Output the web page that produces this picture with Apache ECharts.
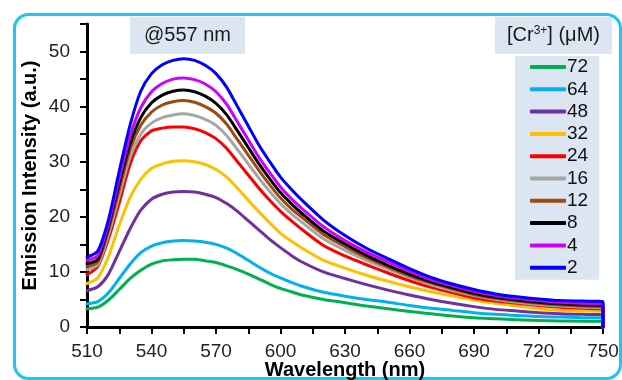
<!DOCTYPE html>
<html>
<head>
<meta charset="utf-8">
<script src="https://cdn.jsdelivr.net/npm/echarts@6.0.0/dist/echarts.min.js"></script>
<style>
  html, body { margin: 0; padding: 0; background: #fff; }
  #chart { width: 622px; height: 380px; }
</style>
</head>
<body>
<div id="chart"></div>
<script>
const wavelengths = [510, 515, 520, 525, 530, 535, 540, 545, 550, 555, 560, 565, 570, 575, 580, 585, 590, 595, 600, 605, 610, 620, 630, 640, 650, 660, 670, 680, 690, 700, 710, 720, 730, 740, 750];

const concLabels = ["72", "64", "48", "32", "24", "16", "12", "8", "4", "2"];

const cr72 = [3.3, 3.6, 4.9, 6.8, 8.8, 10.3, 11.4, 12.0, 12.2, 12.3, 12.3, 12.0, 11.7, 11.1, 10.4, 9.6, 8.7, 7.8, 7.0, 6.4, 5.8, 5.0, 4.4, 3.8, 3.3, 2.8, 2.4, 2.0, 1.7, 1.5, 1.3, 1.2, 1.1, 1.05, 1.0];
const cr64 = [4.2, 4.6, 6.2, 8.8, 11.4, 13.5, 14.7, 15.3, 15.6, 15.7, 15.6, 15.4, 15.0, 14.3, 13.3, 12.1, 10.9, 9.8, 8.9, 8.1, 7.4, 6.3, 5.6, 5.0, 4.5, 3.9, 3.4, 3.0, 2.6, 2.3, 2.1, 1.9, 1.8, 1.7, 1.6];
const cr48 = [6.6, 7.3, 9.6, 13.7, 17.8, 21.2, 23.2, 24.1, 24.5, 24.6, 24.5, 24.1, 23.5, 22.4, 21.0, 19.3, 17.6, 15.9, 14.4, 13.0, 11.8, 10.0, 8.8, 7.7, 6.7, 5.8, 5.0, 4.3, 3.7, 3.2, 2.9, 2.6, 2.4, 2.3, 2.2];
const cr32 = [7.9, 8.9, 12.8, 18.5, 23.5, 26.8, 28.8, 29.6, 30.1, 30.2, 30.0, 29.5, 28.6, 27.2, 25.2, 23.0, 20.9, 18.9, 17.0, 15.6, 14.3, 12.1, 10.7, 9.4, 8.3, 7.3, 6.4, 5.6, 4.9, 4.3, 3.8, 3.3, 3.0, 2.9, 2.8];
const cr24 = [9.5, 11.0, 16.0, 22.5, 29.5, 33.8, 35.6, 36.1, 36.3, 36.3, 36.0, 35.3, 34.2, 32.4, 30.0, 27.6, 25.2, 23.0, 21.0, 19.3, 17.7, 14.8, 12.9, 11.3, 9.8, 8.4, 7.2, 6.2, 5.3, 4.7, 4.3, 3.9, 3.6, 3.4, 3.2];
const cr16 = [10.4, 11.3, 16.8, 23.8, 30.8, 35.0, 37.0, 38.0, 38.5, 38.7, 38.4, 37.7, 36.6, 34.7, 32.2, 29.6, 27.0, 24.6, 22.4, 20.6, 19.0, 16.0, 13.9, 12.1, 10.5, 9.0, 7.7, 6.6, 5.7, 5.0, 4.5, 4.1, 3.8, 3.6, 3.4];
const cr12 = [11.0, 11.8, 17.6, 25.0, 32.2, 36.6, 39.0, 40.3, 40.9, 41.1, 40.8, 40.0, 38.8, 36.8, 34.0, 31.2, 28.4, 25.8, 23.4, 21.5, 19.9, 16.8, 14.6, 12.6, 10.9, 9.3, 8.0, 6.9, 5.9, 5.2, 4.7, 4.3, 4.0, 3.8, 3.6];
const cr8 = [11.5, 12.3, 18.2, 26.0, 33.2, 38.0, 40.7, 42.1, 42.8, 43.0, 42.7, 41.9, 40.6, 38.5, 35.6, 32.6, 29.6, 26.9, 24.4, 22.4, 20.6, 17.4, 15.1, 13.0, 11.2, 9.6, 8.2, 7.1, 6.1, 5.4, 4.9, 4.5, 4.2, 4.0, 3.9];
const cr4 = [12.1, 13.0, 18.8, 27.0, 34.6, 39.8, 42.7, 44.2, 45.0, 45.2, 44.9, 44.1, 42.7, 40.4, 37.2, 34.0, 30.8, 28.0, 25.4, 23.3, 21.5, 18.2, 15.7, 13.6, 11.8, 10.1, 8.6, 7.5, 6.5, 5.7, 5.2, 4.8, 4.5, 4.3, 4.2];
const cr2 = [12.7, 13.8, 19.5, 28.3, 36.6, 42.8, 46.0, 47.6, 48.4, 48.7, 48.4, 47.5, 46.0, 43.5, 40.0, 36.5, 33.0, 30.0, 27.2, 25.0, 23.0, 19.4, 16.6, 14.3, 12.4, 10.6, 9.0, 7.8, 6.8, 6.0, 5.5, 5.1, 4.8, 4.7, 4.6];

const seriesValues = [cr72, cr64, cr48, cr32, cr24, cr16, cr12, cr8, cr4, cr2];
const lineColors = ["#00B050", "#00B0F0", "#7030A0", "#FFC000", "#FF0000", "#A6A6A6", "#9C4A12", "#000000", "#CC00FF", "#0000FF"];

const chart = echarts.init(document.getElementById("chart"), null, { renderer: "canvas" });

const font = "Arial, 'Liberation Sans', sans-serif";

chart.setOption({
  animation: false,
  backgroundColor: "#fff",
  textStyle: { fontFamily: font },
  graphic: [
    {
      type: "rect",
      shape: { x: 14.5, y: 14.5, width: 606, height: 364, r: 14 },
      style: { fill: "none", stroke: "#1EC6F2", lineWidth: 3 },
      z: -1,
    },
  ],
  title: [
    {
      text: "@557 nm",
      left: 130,
      top: 17,
      padding: [8, 14, 8, 14],
      backgroundColor: "#DCE6F2",
      textStyle: { fontSize: 20, fontWeight: "normal", color: "#1a1a1a", lineHeight: 21 },
    },
    {
      text: "[Cr{sup|3+}] (μM)",
      left: 495,
      top: 17,
      padding: [8, 12, 8, 12],
      backgroundColor: "#DCE6F2",
      textStyle: {
        fontSize: 20,
        fontWeight: "normal",
        color: "#1a1a1a",
        lineHeight: 21,
        rich: {
          sup: { fontSize: 12, padding: [0, 0, 9, 0], color: "#1a1a1a" },
        },
      },
    },
  ],
  legend: {
    data: concLabels,
    orient: "vertical",
    left: 515,
    top: 56,
    padding: [0, 11, 1, 15],
    backgroundColor: "#DCE6F2",
    icon: "roundRect",
    itemWidth: 36,
    itemHeight: 4,
    itemGap: 0.3,
    textStyle: { fontSize: 19, color: "#111", lineHeight: 22, padding: [0, 0, 0, -4] },
  },
  grid: {
    left: 87,
    right: 19,
    top: 24,
    bottom: 53,
    containLabel: false,
    outerBoundsMode: "none",
  },
  xAxis: {
    type: "value",
    min: 510,
    max: 750,
    interval: 15,
    name: "Wavelength (nm)",
    nameLocation: "middle",
    nameGap: 33,
    nameMoveOverlap: false,
    nameTextStyle: { fontSize: 20, fontWeight: "bold", color: "#000" },
    axisLine: { lineStyle: { color: "#000", width: 3 } },
    axisTick: { length: 7, lineStyle: { color: "#000", width: 2 } },
    axisLabel: {
      fontSize: 19,
      color: "#222",
      margin: 15,
      formatter: (v) => ((v - 510) % 30 === 0 ? String(v) : ""),
    },
    splitLine: { show: false },
  },
  yAxis: {
    type: "value",
    min: 0,
    max: 55,
    interval: 5,
    name: "Emission Intensity (a.u.)",
    nameLocation: "middle",
    nameGap: 47,
    nameMoveOverlap: false,
    nameTextStyle: { fontSize: 20, fontWeight: "bold", color: "#000" },
    axisLine: { show: true, lineStyle: { color: "#000", width: 3 } },
    axisTick: { show: true, length: 7, lineStyle: { color: "#000", width: 2 } },
    axisLabel: {
      fontSize: 19,
      color: "#222",
      margin: 17,
      formatter: (v) => (v % 10 === 0 ? String(v) : ""),
    },
    splitLine: { show: false },
  },
  series: concLabels.map((label, i) => ({
    name: label,
    type: "line",
    showSymbol: false,
    symbol: "none",
    smooth: 0.25,
    color: lineColors[i],
    lineStyle: { width: 3, color: lineColors[i], cap: "round", join: "round" },
    data: wavelengths.map((w, k) => [w, seriesValues[i][k]]).concat([[750, 0]]),
  })),
});
</script>
</body>
</html>
